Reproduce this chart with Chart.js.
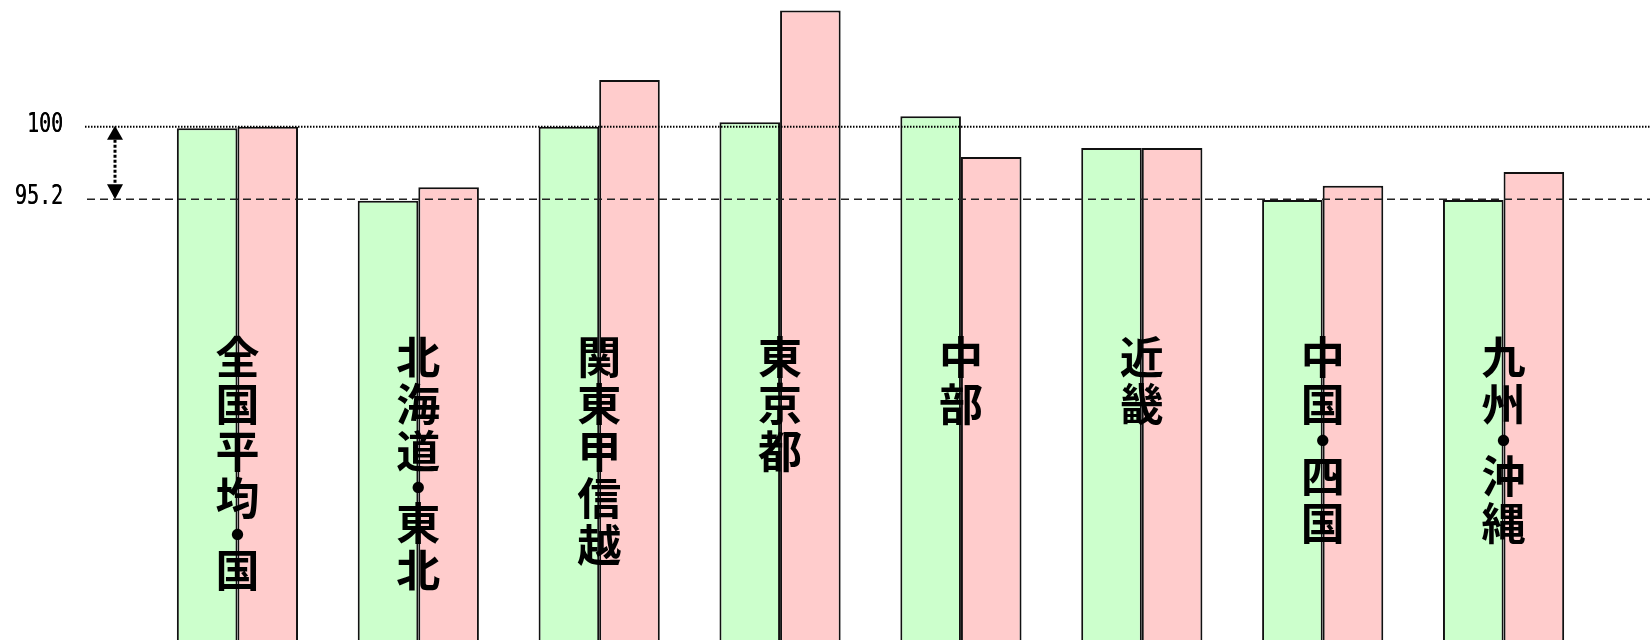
<!DOCTYPE html>
<html lang="ja">
<head>
<meta charset="utf-8">
<title>地域別指数</title>
<script src="https://cdn.jsdelivr.net/npm/chart.js@4.4.0/dist/chart.umd.min.js"></script>
<style>
  html, body { margin: 0; padding: 0; background: #fff; }
  #wrap { width: 1650px; height: 640px; position: relative; }
</style>
</head>
<body>
<div id="wrap"><canvas id="chart"></canvas></div>
<script>
const regions = ['全国平均・国', '北海道・東北', '関東甲信越', '東京都', '中部', '近畿', '中国・四国', '九州・沖縄'];
const greenValues = [99.9, 95.1, 100.0, 100.3, 100.7, 98.6, 95.15, 95.15];
const pinkValues = [100.0, 96.0, 103.1, 107.7, 98.0, 98.6, 96.1, 97.0];
const refValues = [100, 95.2];
const refLabels = ['100', '95.2'];
const yMin = 66;
const yMax = 108.4;

// reference lines, arrow, tick texts and the vertical region names
const overlayPlugin = {
    id: 'overlay',
    afterDatasetsDraw(chart) {
        const ctx = chart.ctx;
        const xs = chart.scales.x;
        const ys = chart.scales.y;
        const W = chart.width;
        const yTop = ys.getPixelForValue(refValues[0]);
        const yLow = ys.getPixelForValue(refValues[1]);

        ctx.save();
        ctx.strokeStyle = '#000';

        // dotted line at 100
        ctx.lineWidth = 2;
        ctx.setLineDash([1.5, 1.5]);
        ctx.beginPath();
        ctx.moveTo(85, yTop);
        ctx.lineTo(W, yTop);
        ctx.stroke();

        // dashed line at 95.2
        ctx.strokeStyle = '#222';
        ctx.lineWidth = 1.6;
        ctx.setLineDash([8, 5]);
        ctx.beginPath();
        ctx.moveTo(87, yLow);
        ctx.lineTo(W, yLow);
        ctx.stroke();

        // double arrow between the two lines
        const ax = 115;
        ctx.strokeStyle = '#000';
        ctx.lineWidth = 3;
        ctx.setLineDash([3, 2]);
        ctx.beginPath();
        ctx.moveTo(ax, yTop + 13);
        ctx.lineTo(ax, yLow - 15);
        ctx.stroke();
        ctx.setLineDash([]);
        ctx.fillStyle = '#000';
        ctx.beginPath();
        ctx.moveTo(ax, yTop - 1);
        ctx.lineTo(ax - 8, yTop + 13);
        ctx.lineTo(ax + 8, yTop + 13);
        ctx.closePath();
        ctx.fill();
        ctx.beginPath();
        ctx.moveTo(ax, yLow);
        ctx.lineTo(ax - 8, yLow - 15);
        ctx.lineTo(ax + 8, yLow - 15);
        ctx.closePath();
        ctx.fill();

        // tick texts
        ctx.font = '20px "DejaVu Sans Mono"';
        ctx.textAlign = 'right';
        ctx.textBaseline = 'middle';
        refValues.forEach((v, i) => {
            const py = ys.getPixelForValue(v) - 2;
            ctx.save();
            ctx.translate(63, py);
            ctx.scale(1, 1.32);
            ctx.fillText(refLabels[i], 0, 0);
            ctx.fillText(refLabels[i], 0.4, 0);
            ctx.restore();
        });

        // vertical category names
        ctx.font = 'bold 44px "Noto Sans CJK JP"';
        ctx.textAlign = 'center';
        ctx.textBaseline = 'middle';
        regions.forEach((name, i) => {
            const cx = xs.getPixelForValue(i);
            let top = 334;
            Array.from(name).forEach(ch => {
                const pitch = ch === '・' ? 25 : 47;
                ctx.fillText(ch, cx, top + pitch / 2);
                top += pitch;
            });
        });

        ctx.restore();
    }
};

window.onload = function() {
    const ctx = document.getElementById('chart').getContext('2d');
    new Chart(ctx, {
        type: 'bar',
        data: {
            labels: regions,
            datasets: [{
                label: 'A',
                data: greenValues,
                backgroundColor: '#CCFFCC',
                borderColor: '#111',
                borderWidth: 2,
                categoryPercentage: 0.67,
                barPercentage: 1.0
            }, {
                label: 'B',
                data: pinkValues,
                backgroundColor: '#FFCCCC',
                borderColor: '#111',
                borderWidth: 2,
                categoryPercentage: 0.67,
                barPercentage: 1.0
            }]
        },
        options: {
            responsive: true,
            maintainAspectRatio: false,
            animation: false,
            layout: { padding: { left: 147, right: 56, top: 0, bottom: 0 } },
            plugins: {
                legend: { display: false },
                tooltip: { enabled: false }
            },
            scales: {
                x: { display: false },
                y: { display: false, min: yMin, max: yMax }
            }
        },
        plugins: [overlayPlugin]
    });
};
</script>
</body>
</html>
